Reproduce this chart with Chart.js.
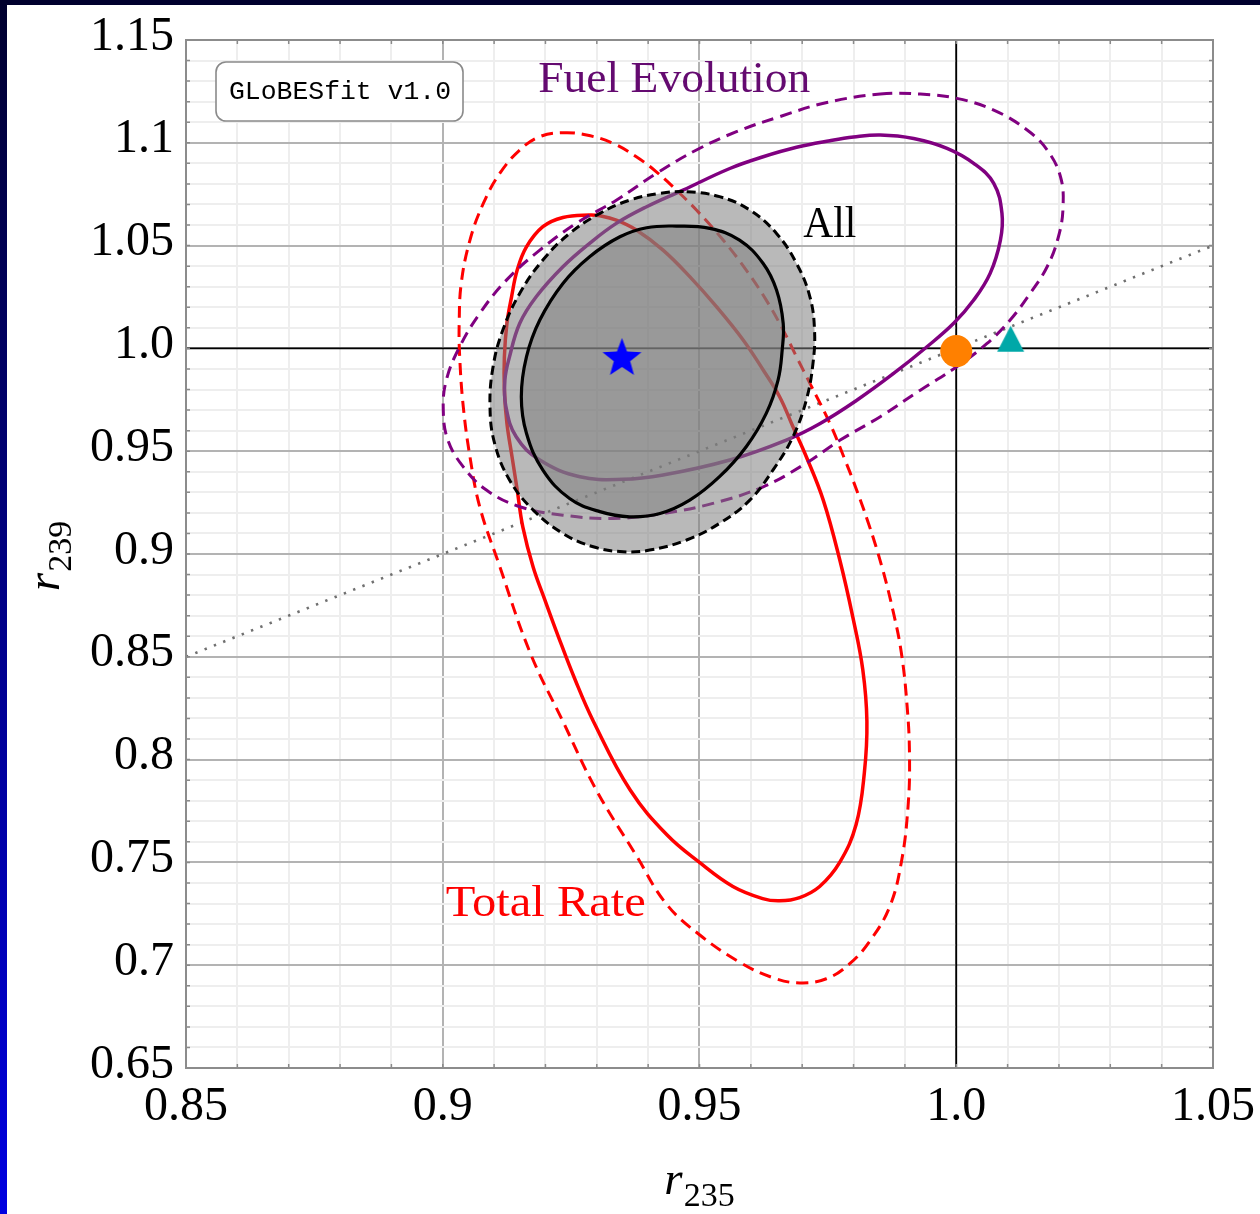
<!DOCTYPE html>
<html><head><meta charset="utf-8">
<script src="https://cdn.jsdelivr.net/npm/chart.js@4/dist/chart.umd.min.js"></script>
<style>
html,body{margin:0;padding:0;background:#fff;}
#wrap{position:relative;width:1260px;height:1214px;overflow:hidden;background:#fff;}
#c{position:absolute;left:0;top:0;}
#topband{position:absolute;left:0;top:0;width:1260px;height:5px;background:#00002e;}
#leftband{position:absolute;left:0;top:0;width:7px;height:1214px;background:linear-gradient(to bottom,#00002e,#0000e0);}
</style></head>
<body><div id="wrap"><canvas id="c" width="1260" height="1214"></canvas><div id="leftband"></div><div id="topband"></div></div>
<script>
// ---------------- data ----------------
const X_MIN = 0.85, X_MAX = 1.05, Y_MIN = 0.65, Y_MAX = 1.15;
const X_TICK_VALUES = [0.85, 0.9, 0.95, 1.0, 1.05];
const X_TICK_LABELS = ['0.85', '0.9', '0.95', '1.0', '1.05'];
const Y_TICK_VALUES = [0.65, 0.7, 0.75, 0.8, 0.85, 0.9, 0.95, 1.0, 1.05, 1.1, 1.15];
const Y_TICK_LABELS = ['0.65', '0.7', '0.75', '0.8', '0.85', '0.9', '0.95', '1.0', '1.05', '1.1', '1.15'];
const X_TITLE = ['r', '235'];
const Y_TITLE = ['r', '239'];
const REGION_LABELS = ['Fuel Evolution', 'All', 'Total Rate'];
const BADGE_TEXT = 'GLoBESfit v1.0';

const REF_VERTICAL = [[1.0, 0.65], [1.0, 1.15]];
const REF_HORIZONTAL = [[0.85, 1.0], [1.05, 1.0]];
const DIAGONAL = [[0.85, 0.85], [1.05, 1.05]];

const BEST_FIT = [[0.9349, 0.9951]];
const ORANGE_POINT = [[1.0, 0.9987]];
const TEAL_POINT = [[1.0106, 1.0047]];

const ALL_1SIGMA = [
  [0.9455,1.0595],[0.9520,1.0584],[0.9578,1.0527],[0.9624,1.0413],[0.9650,1.0284],[0.9663,1.0122],
  [0.9661,0.9992],[0.9653,0.9846],[0.9630,0.9684],[0.9591,0.9522],[0.9539,0.9376],[0.9481,0.9262],
  [0.9423,0.9197],[0.9364,0.9181],[0.9306,0.9206],[0.9247,0.9270],[0.9195,0.9408],[0.9163,0.9587],
  [0.9153,0.9765],[0.9163,0.9959],[0.9189,1.0138],[0.9234,1.0316],[0.9286,1.0446],[0.9345,1.0543],
  [0.9397,1.0587]
];
const ALL_2SIGMA = [
  [0.9475,1.0762],[0.9539,1.0738],[0.9598,1.0673],[0.9650,1.0559],[0.9689,1.0413],[0.9715,1.0251],
  [0.9724,1.0089],[0.9721,0.9927],[0.9708,0.9749],[0.9682,0.9570],[0.9643,0.9408],[0.9598,0.9262],
  [0.9539,0.9149],[0.9475,0.9068],[0.9403,0.9019],[0.9351,0.9011],[0.9293,0.9035],[0.9234,0.9100],
  [0.9176,0.9214],[0.9130,0.9360],[0.9101,0.9538],[0.9092,0.9716],[0.9098,0.9911],[0.9117,1.0089],
  [0.9150,1.0268],[0.9195,1.0430],[0.9247,1.0559],[0.9306,1.0657],[0.9364,1.0721],[0.9423,1.0754]
];
const TOTAL_RATE_1SIGMA = [
  [0.9286,1.0649],[0.9306,1.0645],[0.9338,1.0624],[0.9377,1.0576],[0.9429,1.0478],[0.9481,1.0349],
  [0.9533,1.0203],[0.9585,1.0041],[0.9624,0.9895],[0.9656,0.9765],[0.9682,0.9619],[0.9708,0.9473],
  [0.9741,0.9262],[0.9773,0.8973],[0.9799,0.8688],[0.9818,0.8437],[0.9826,0.8186],[0.9821,0.7935],
  [0.9805,0.7684],[0.9773,0.7500],[0.9734,0.7383],[0.9695,0.7329],[0.9656,0.7313],[0.9623,0.7324],
  [0.9565,0.7383],[0.9500,0.7500],[0.9437,0.7633],[0.9365,0.7852],[0.9293,0.8188],[0.9258,0.8387],
  [0.9224,0.8606],[0.9199,0.8776],[0.9176,0.8937],[0.9156,0.9131],[0.9145,0.9311],[0.9135,0.9472],
  [0.9125,0.9635],[0.9120,0.9797],[0.9120,0.9959],[0.9125,1.0122],[0.9134,1.0251],[0.9145,1.0381],
  [0.9163,1.0494],[0.9195,1.0592],[0.9234,1.0637]
];
const TOTAL_RATE_2SIGMA = [
  [0.9234,1.1049],[0.9280,1.1038],[0.9332,1.0997],[0.9377,1.0932],[0.9416,1.0859],[0.9455,1.0770],
  [0.9494,1.0673],[0.9546,1.0527],[0.9591,1.0381],[0.9630,1.0235],[0.9663,1.0089],[0.9689,0.9959],
  [0.9715,0.9830],[0.9754,0.9635],[0.9786,0.9441],[0.9799,0.9358],[0.9828,0.9157],[0.9855,0.8940],
  [0.9877,0.8722],[0.9893,0.8521],[0.9904,0.8270],[0.9909,0.8019],[0.9906,0.7768],[0.9893,0.7500],
  [0.9870,0.7282],[0.9831,0.7115],[0.9792,0.7006],[0.9747,0.6934],[0.9695,0.6914],[0.9643,0.6939],
  [0.9578,0.7015],[0.9500,0.7148],[0.9435,0.7299],[0.9377,0.7533],[0.9299,0.7852],[0.9234,0.8186],
  [0.9170,0.8521],[0.9109,0.8954],[0.9072,0.9230],[0.9053,0.9473],[0.9040,0.9716],[0.9033,0.9959],
  [0.9032,1.0122],[0.9036,1.0316],[0.9053,1.0527],[0.9079,1.0705],[0.9111,1.0851],[0.9150,1.0965],
  [0.9189,1.1030]
];
const FUEL_EVO_1SIGMA = [
  [0.9852,1.1038],[0.9917,1.1021],[0.9982,1.0973],[1.0034,1.0900],[1.0073,1.0803],[1.0089,1.0657],
  [1.0086,1.0527],[1.0066,1.0365],[1.0034,1.0235],[0.9995,1.0122],[0.9943,1.0008],[0.9878,0.9878],
  [0.9807,0.9749],[0.9735,0.9635],[0.9669,0.9554],[0.9559,0.9457],[0.9429,0.9384],[0.9351,0.9363],
  [0.9267,0.9376],[0.9189,0.9457],[0.9143,0.9570],[0.9123,0.9716],[0.9121,0.9846],[0.9130,0.9959],
  [0.9150,1.0122],[0.9182,1.0251],[0.9234,1.0397],[0.9286,1.0511],[0.9338,1.0608],[0.9397,1.0689],
  [0.9468,1.0770],[0.9559,1.0875],[0.9624,1.0932],[0.9689,1.0978],[0.9754,1.1010],[0.9800,1.1028]
];
const FUEL_EVO_2SIGMA = [
  [0.9852,1.1237],[0.9930,1.1237],[1.0001,1.1216],[1.0073,1.1159],[1.0138,1.1062],[1.0177,1.0965],
  [1.0203,1.0835],[1.0208,1.0689],[1.0199,1.0543],[1.0177,1.0397],[1.0144,1.0268],[1.0105,1.0138],
  [1.0060,1.0024],[1.0001,0.9911],[0.9930,0.9797],[0.9852,0.9668],[0.9774,0.9554],[0.9702,0.9433],
  [0.9624,0.9327],[0.9526,0.9246],[0.9429,0.9197],[0.9332,0.9173],[0.9234,0.9189],[0.9150,0.9230],
  [0.9085,0.9311],[0.9040,0.9424],[0.9010,0.9554],[0.9001,0.9700],[0.9007,0.9846],[0.9033,1.0008],
  [0.9072,1.0170],[0.9124,1.0332],[0.9189,1.0478],[0.9260,1.0608],[0.9338,1.0721],[0.9416,1.0851],
  [0.9494,1.0965],[0.9572,1.1054],[0.9656,1.1127],[0.9748,1.1196]
];

// ---------------- helpers ----------------
const toXY = arr => arr.map(p => ({x: p[0], y: p[1]}));
function closedLoop(arr) {
  const n = arr.length;
  return toXY([arr[n - 1], ...arr, arr[0], arr[1]]);
}
function hiddenEnds(arr) {
  const last = arr.length + 2;
  const hide = c => (c.p0DataIndex === 0 || c.p1DataIndex === last) ? 'rgba(0,0,0,0)' : undefined;
  return {borderColor: hide, backgroundColor: hide};
}
function grid(min, max, step) {
  const out = [];
  const n = Math.round((max - min) / step);
  for (let i = 0; i <= n; i++) out.push(Math.round((min + i * step) * 100) / 100);
  return out;
}
const X_GRID = grid(X_MIN, X_MAX, 0.01);
const Y_GRID = grid(Y_MIN, Y_MAX, 0.01);
const isMajor = (vals, v) => vals.some(t => Math.abs(t - v) < 1e-9);
const labelFor = (vals, labels, v) => {
  const i = vals.findIndex(t => Math.abs(t - v) < 1e-9);
  return i >= 0 ? labels[i] : '';
};

function makeStar(R, ratio, color) {
  const s = Math.ceil(2 * R + 4);
  const c = document.createElement('canvas');
  c.width = s; c.height = s;
  const g = c.getContext('2d');
  g.fillStyle = color;
  g.beginPath();
  for (let i = 0; i < 10; i++) {
    const a = -Math.PI / 2 + i * Math.PI / 5;
    const rr = i % 2 === 0 ? R : R * ratio;
    g.lineTo(s / 2 + rr * Math.cos(a), s / 2 + rr * Math.sin(a));
  }
  g.closePath(); g.fill();
  return c;
}
function makeTriangle(w, h, color) {
  const c = document.createElement('canvas');
  c.width = Math.ceil(w + 2); c.height = Math.ceil(h + 2);
  const g = c.getContext('2d');
  g.fillStyle = color;
  g.beginPath();
  g.moveTo(c.width / 2, (c.height - h) / 2);
  g.lineTo(c.width / 2 + w / 2, (c.height + h) / 2);
  g.lineTo(c.width / 2 - w / 2, (c.height + h) / 2);
  g.closePath(); g.fill();
  return c;
}

const RED = '#ff0000', PURPLE = '#800080';
const GRAY_FILL = 'rgba(126,126,126,0.54)';

function contour(data, color, width, dash, order, fillColor) {
  return {
    type: 'line',
    data: closedLoop(data), showLine: true, pointRadius: 0, tension: 0.4,
    borderColor: color, borderWidth: width, borderDash: dash,
    fill: fillColor ? 'shape' : false, backgroundColor: fillColor || 'rgba(0,0,0,0)',
    segment: hiddenEnds(data), order, borderCapStyle: 'butt', borderJoinStyle: 'round'
  };
}
function straight(data, color, width, dash, order) {
  return {type: 'line', data: toXY(data), showLine: true, pointRadius: 0, tension: 0,
    borderColor: color, borderWidth: width, borderDash: dash, fill: false, order};
}

const datasets = [
  {type: 'line', data: toXY(BEST_FIT), showLine: false, pointStyle: makeStar(20.5, 0.42, '#0000ff'), pointRadius: 20, order: 0},
  {type: 'line', data: toXY(ORANGE_POINT), showLine: false, pointStyle: 'circle', pointRadius: 16, backgroundColor: '#ff8000', borderWidth: 0, order: 0},
  {type: 'line', data: toXY(TEAL_POINT), showLine: false, pointStyle: makeTriangle(27, 26, '#00a8a8'), pointRadius: 14, order: 0},
  contour(ALL_1SIGMA, '#000000', 3.2, [], 1, GRAY_FILL),
  contour(ALL_2SIGMA, '#000000', 3, [9, 5], 2, GRAY_FILL),
  contour(FUEL_EVO_1SIGMA, PURPLE, 3.5, [], 3, null),
  contour(FUEL_EVO_2SIGMA, PURPLE, 3, [12, 7], 4, null),
  contour(TOTAL_RATE_1SIGMA, RED, 3.5, [], 5, null),
  contour(TOTAL_RATE_2SIGMA, RED, 3, [12, 7], 6, null),
  straight(REF_VERTICAL, '#000000', 1.8, [], 7),
  straight(REF_HORIZONTAL, '#000000', 1.8, [], 7),
  straight(DIAGONAL, '#707070', 2.6, [2.4, 7.6], 8)
];

const LABEL_FONT = '"Liberation Serif", "DejaVu Serif", serif';
const LABEL_LAYOUT = [
  {text: REGION_LABELS[0], x: 0.9186, y: 1.1247, width: 272, color: '#640a70'},
  {text: REGION_LABELS[1], x: 0.9702, y: 1.0542, width: 53, color: '#000000'},
  {text: REGION_LABELS[2], x: 0.9006, y: 0.7239, width: 200, color: '#ff0000'}
];

function fitText(ctx, text, x, y, width) {
  const m = ctx.measureText(text).width;
  ctx.save();
  ctx.translate(x, y);
  ctx.scale(width / m, 1);
  ctx.fillText(text, 0, 0);
  ctx.restore();
}

const decor = {
  id: 'decor',
  afterDatasetsDraw(chart) {
    const {ctx, chartArea: a, scales: {x, y}} = chart;
    ctx.save();
    ctx.strokeStyle = '#8a8a8a'; ctx.lineWidth = 1.5;
    ctx.beginPath();
    X_GRID.forEach(v => {
      const px = x.getPixelForValue(v);
      ctx.moveTo(px, a.top); ctx.lineTo(px, a.top + 4);
      ctx.moveTo(px, a.bottom); ctx.lineTo(px, a.bottom - 4);
    });
    Y_GRID.forEach(v => {
      const py = y.getPixelForValue(v);
      ctx.moveTo(a.left, py); ctx.lineTo(a.left + 4, py);
      ctx.moveTo(a.right, py); ctx.lineTo(a.right - 4, py);
    });
    ctx.stroke();
    ctx.strokeStyle = '#8c8c8c'; ctx.lineWidth = 2;
    ctx.strokeRect(a.left, a.top, a.right - a.left, a.bottom - a.top);
    const bx = a.left + 30, by = a.top + 22, bw = 247, bh = 59;
    ctx.beginPath();
    ctx.roundRect(bx, by, bw, bh, 10);
    ctx.fillStyle = '#ffffff'; ctx.fill();
    ctx.strokeStyle = '#8a8a8a'; ctx.lineWidth = 1.6; ctx.stroke();
    ctx.fillStyle = '#000000';
    ctx.font = '26px "Liberation Mono", "DejaVu Sans Mono", monospace';
    ctx.textBaseline = 'middle'; ctx.textAlign = 'left';
    fitText(ctx, BADGE_TEXT, bx + 13, by + bh / 2 + 1, 222);
    ctx.textBaseline = 'alphabetic';
    ctx.font = '44px ' + LABEL_FONT;
    LABEL_LAYOUT.forEach(l => {
      ctx.fillStyle = l.color;
      fitText(ctx, l.text, x.getPixelForValue(l.x), y.getPixelForValue(l.y), l.width);
    });
    ctx.restore();
  },
  afterDraw(chart) {
    const {ctx, chartArea: a} = chart;
    ctx.save();
    ctx.fillStyle = '#000000';
    ctx.textBaseline = 'alphabetic'; ctx.textAlign = 'left';
    const R_FONT = 'italic 47px ' + LABEL_FONT, S_FONT = '34px ' + LABEL_FONT;
    const cx = (a.left + a.right) / 2;
    ctx.font = R_FONT;
    const rw = ctx.measureText(X_TITLE[0]).width;
    ctx.font = S_FONT;
    const sw = ctx.measureText(X_TITLE[1]).width;
    const x0 = cx - (rw + 1 + sw) / 2;
    ctx.font = R_FONT;
    ctx.fillText(X_TITLE[0], x0, 1194);
    ctx.font = S_FONT;
    ctx.fillText(X_TITLE[1], x0 + rw + 1, 1206);
    ctx.translate(59, 556);
    ctx.rotate(-Math.PI / 2);
    ctx.font = R_FONT;
    const rw2 = ctx.measureText(Y_TITLE[0]).width;
    ctx.font = S_FONT;
    const sw2 = ctx.measureText(Y_TITLE[1]).width;
    const y0 = -(rw2 + 1 + sw2) / 2;
    ctx.font = R_FONT;
    ctx.fillText(Y_TITLE[0], y0, 0);
    ctx.font = S_FONT;
    ctx.fillText(Y_TITLE[1], y0 + rw2 + 1, 12);
    ctx.restore();
  }
};

const TICK_FONT = {family: '"Liberation Serif", "DejaVu Serif", serif', size: 48};

new Chart(document.getElementById('c'), {
  type: 'line',
  data: {datasets},
  options: {
    responsive: false, animation: false, events: [],
    layout: {padding: {top: 40, right: 47, bottom: 0, left: 0}},
    plugins: {legend: {display: false}, tooltip: {enabled: false}},
    scales: {
      x: {
        type: 'linear', min: X_MIN, max: X_MAX, position: 'bottom',
        afterBuildTicks: s => { s.ticks = X_GRID.map(v => ({value: v})); },
        afterFit: s => { s.height = 146; s.paddingLeft = 0; s.paddingRight = 0; },
        ticks: {autoSkip: false, maxRotation: 0, minRotation: 0, padding: 11, color: '#000',
          font: TICK_FONT, callback: v => labelFor(X_TICK_VALUES, X_TICK_LABELS, v)},
        grid: {drawTicks: false,
          color: c => isMajor(X_TICK_VALUES, c.tick.value) ? '#b3b3b3' : '#eeeeee',
          lineWidth: 2},
        border: {display: true, color: '#8c8c8c', width: 2}
      },
      y: {
        type: 'linear', min: Y_MIN, max: Y_MAX, position: 'left',
        afterBuildTicks: s => { s.ticks = Y_GRID.map(v => ({value: v})); },
        afterFit: s => { s.width = 186; s.paddingTop = 0; s.paddingBottom = 0; },
        ticks: {autoSkip: false, padding: 12, color: '#000', labelOffset: -3,
          font: TICK_FONT, callback: v => labelFor(Y_TICK_VALUES, Y_TICK_LABELS, v)},
        grid: {drawTicks: false,
          color: c => isMajor(Y_TICK_VALUES, c.tick.value) ? '#b3b3b3' : '#eeeeee',
          lineWidth: 2},
        border: {display: true, color: '#8c8c8c', width: 2}
      }
    }
  },
  plugins: [decor]
});
</script>
</body></html>
